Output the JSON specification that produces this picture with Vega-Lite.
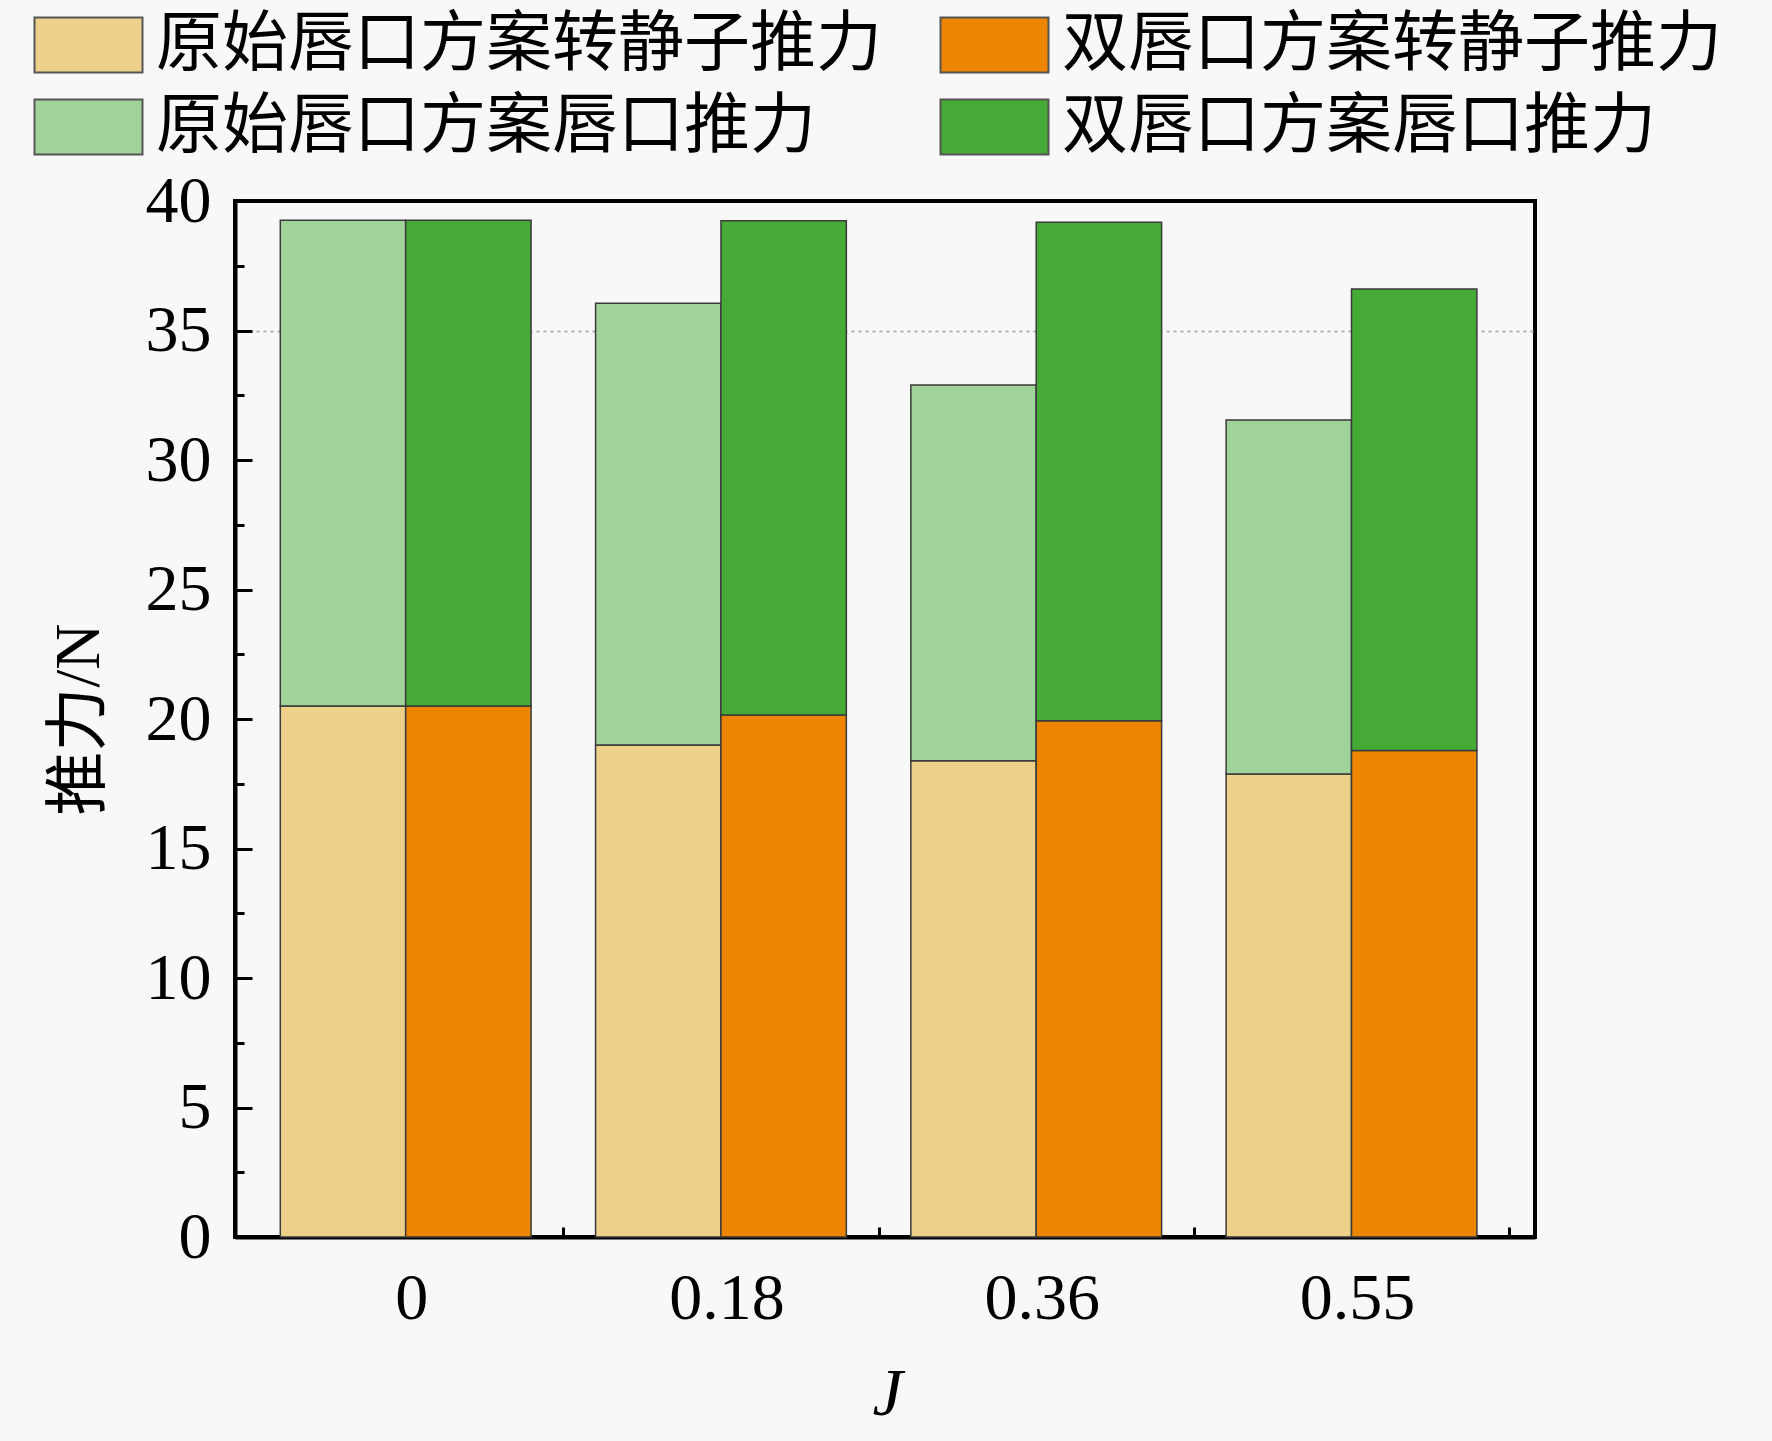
{
  "$schema": "https://vega.github.io/schema/vega-lite/v6.json",
  "width": 1300,
  "height": 1036,
  "autosize": {"type": "none"},
  "padding": {"left": 235, "top": 201, "right": 237, "bottom": 204},
  "background": "#f8f8f8",
  "config": {
    "view": {"stroke": "black", "strokeWidth": 4},
    "axis": {"domainColor": "black", "domainWidth": 4, "tickColor": "black", "tickWidth": 3, "labelColor": "black", "titleColor": "black"}
  },
  "data": {
    "values": [
      {"J": "0", "scheme": "原始", "part": "转静子", "series": "原始唇口方案转静子推力", "value": 20.5},
      {"J": "0", "scheme": "原始", "part": "唇口", "series": "原始唇口方案唇口推力", "value": 18.76},
      {"J": "0", "scheme": "双", "part": "转静子", "series": "双唇口方案转静子推力", "value": 20.5},
      {"J": "0", "scheme": "双", "part": "唇口", "series": "双唇口方案唇口推力", "value": 18.76},
      {"J": "0.18", "scheme": "原始", "part": "转静子", "series": "原始唇口方案转静子推力", "value": 19.0},
      {"J": "0.18", "scheme": "原始", "part": "唇口", "series": "原始唇口方案唇口推力", "value": 17.05},
      {"J": "0.18", "scheme": "双", "part": "转静子", "series": "双唇口方案转静子推力", "value": 20.15},
      {"J": "0.18", "scheme": "双", "part": "唇口", "series": "双唇口方案唇口推力", "value": 19.09},
      {"J": "0.36", "scheme": "原始", "part": "转静子", "series": "原始唇口方案转静子推力", "value": 18.39},
      {"J": "0.36", "scheme": "原始", "part": "唇口", "series": "原始唇口方案唇口推力", "value": 14.51},
      {"J": "0.36", "scheme": "双", "part": "转静子", "series": "双唇口方案转静子推力", "value": 19.93},
      {"J": "0.36", "scheme": "双", "part": "唇口", "series": "双唇口方案唇口推力", "value": 19.25},
      {"J": "0.55", "scheme": "原始", "part": "转静子", "series": "原始唇口方案转静子推力", "value": 17.88},
      {"J": "0.55", "scheme": "原始", "part": "唇口", "series": "原始唇口方案唇口推力", "value": 13.66},
      {"J": "0.55", "scheme": "双", "part": "转静子", "series": "双唇口方案转静子推力", "value": 18.78},
      {"J": "0.55", "scheme": "双", "part": "唇口", "series": "双唇口方案唇口推力", "value": 17.82}
    ]
  },
  "layer": [
    {
      "mark": {"type": "bar", "stroke": "#3a3a3a", "strokeWidth": 1.5},
      "encoding": {
        "x": {
          "field": "J", "type": "nominal", "sort": ["0", "0.18", "0.36", "0.55"],
          "scale": {"paddingInner": 0.2046, "paddingOuter": 0.164, "align": 0.438},
          "axis": {
            "orient": "bottom", "title": "J", "labelAngle": 0,
            "labelFont": "Liberation Serif", "labelFontSize": 66, "labelPadding": 49, "labelOffset": 6,
            "tickSize": -20, "grid": false,
            "titleFont": "Liberation Serif", "titleFontStyle": "italic", "titleFontWeight": "normal",
            "titleFontSize": 68, "titleX": 652, "titleY": 177, "titleBaseline": "alphabetic", "titleAlign": "center"
          }
        },
        "xOffset": {"field": "scheme", "type": "nominal", "sort": ["原始", "双"], "scale": {"paddingInner": 0, "paddingOuter": 0}},
        "y": {
          "field": "value", "type": "quantitative", "stack": "zero",
          "scale": {"domain": [0, 40], "nice": false},
          "axis": {
            "title": "推力/N",
            "values": [0, 2.5, 5, 7.5, 10, 12.5, 15, 17.5, 20, 22.5, 25, 27.5, 30, 32.5, 35, 37.5, 40],
            "labelExpr": "datum.value % 5 === 0 ? datum.label : ''",
            "labelFont": "Liberation Serif", "labelFontSize": 66, "labelPadding": 41,
            "tickSize": {"condition": {"test": "datum.value % 5 !== 0", "value": -9}, "value": -17},
            "grid": true, "gridColor": "#b0b0b0", "gridDash": [3, 4], "gridWidth": 2,
            "gridOpacity": {"condition": {"test": "datum.value === 35", "value": 1}, "value": 0},
            "titleFont": "Liberation Serif, Noto Sans CJK SC", "titleFontSize": 64, "titleFontWeight": "normal",
            "titleX": -156, "titleY": 518, "titleAngle": -90, "titleBaseline": "middle", "titleAlign": "center"
          }
        },
        "color": {
          "field": "series", "type": "nominal",
          "scale": {
            "domain": ["原始唇口方案转静子推力", "原始唇口方案唇口推力", "双唇口方案转静子推力", "双唇口方案唇口推力"],
            "range": ["#EDD08A", "#A0D399", "#EE8500", "#46AB36"]
          },
          "legend": {
            "orient": "none", "legendX": -206, "legendY": -189, "columns": 2, "title": null,
            "symbolType": "M-1,-1H2.927V1H-1Z", "symbolSize": 3025,
            "symbolStrokeColor": "#555555", "symbolStrokeWidth": 2, "symbolOpacity": 1,
            "labelFont": "Noto Sans CJK SC", "labelFontSize": 66, "labelColor": "black",
            "labelOffset": 61, "labelLimit": 2000, "columnPadding": 53, "rowPadding": 16
          }
        },
        "order": {"field": "part", "sort": "descending"}
      }
    },
    {
      "mark": {"type": "text", "text": ""},
      "encoding": {
        "x": {
          "field": "J", "type": "nominal", "sort": ["0", "0.18", "0.36", "0.55"],
          "axis": {"orient": "bottom", "title": null, "labels": false, "domain": false, "grid": false, "tickSize": -10, "tickOffset": 157.6}
        }
      }
    }
  ],
  "resolve": {"axis": {"x": "independent"}}
}
